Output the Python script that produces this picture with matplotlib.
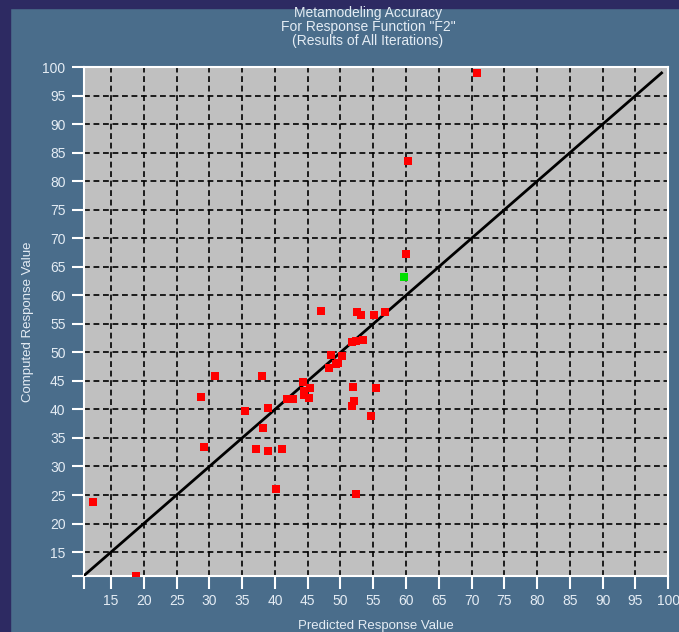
import matplotlib
matplotlib.use('Agg')
import matplotlib.pyplot as plt
from matplotlib.patches import Rectangle

plt.rcParams['font.family'] = ['Liberation Sans', 'DejaVu Sans']

# predicted vs computed values for response function F2
predicted = [70.8, 60.3, 60.0, 47.1, 52.6, 53.1, 55.1, 56.8, 51.8, 52.3,
             53.5, 48.5, 50.2, 48.2, 49.3, 49.7, 30.9, 38.0, 44.3, 45.4,
             44.4, 44.4, 45.2, 42.8, 41.8, 28.7, 51.9, 55.5, 52.1, 51.7,
             54.6, 39.0, 35.5, 38.2, 29.2, 37.1, 39.0, 41.1, 40.1, 52.3,
             12.2, 18.8]
computed = [99.0, 83.6, 67.2, 57.3, 57.0, 56.6, 56.5, 57.0, 51.8, 52.0,
            52.2, 49.6, 49.3, 47.3, 47.9, 48.2, 45.8, 45.8, 44.8, 43.8,
            43.3, 42.6, 42.0, 41.8, 41.8, 42.2, 43.9, 43.8, 41.4, 40.6,
            38.8, 40.3, 39.7, 36.7, 33.5, 33.1, 32.8, 33.0, 26.0, 25.2,
            23.7, 10.8]
# latest iteration
last_predicted = [59.7]
last_computed = [63.2]

axis_min = 10.8
tick_values = list(range(15, 101, 5))

bg = '#4a6d8b'
txt = '#e4ecf4'
fig = plt.figure(figsize=(6.79, 6.32), dpi=100, facecolor=bg)
fig.patches.append(Rectangle((0, 0), 10 / 679, 1, transform=fig.transFigure,
                             color='#2d2a62', zorder=0))
fig.patches.append(Rectangle((0, 1 - 8 / 632), 1, 8 / 632, transform=fig.transFigure,
                             color='#2d2a62', zorder=0))

ax = fig.add_axes([0.123, 0.0886, 0.861, 0.805])
ax.set_facecolor('#c0c0c0')

lo = min(min(predicted), min(computed))
hi = max(max(predicted), max(computed))
ax.plot([lo, hi], [lo, hi], color='black', lw=2, zorder=3)
ax.scatter(predicted, computed, marker='s', s=28, color='#ff0000', zorder=4, linewidths=0)
ax.scatter(last_predicted, last_computed, marker='s', s=28, color='#00e000', zorder=4, linewidths=0)

ax.set_xlim(axis_min, 100)
ax.set_ylim(axis_min, 100)
ticks = [axis_min] + tick_values
labels = [''] + [str(t) for t in tick_values]
ax.set_xticks(ticks)
ax.set_xticklabels(labels)
ax.set_yticks(ticks)
ax.set_yticklabels(labels)
ax.tick_params(colors='white', labelcolor=txt, length=9, width=1.5,
               labelsize=10, pad=4)
ax.grid(True, color='black', linestyle=(0, (3.5, 2.2)), linewidth=1.2)
for s in ax.spines.values():
    s.set_color('white')
    s.set_linewidth(1.5)

ax.set_xlabel('Predicted Response Value', color=txt, fontsize=9.5)
ax.xaxis.set_label_coords(0.5, -0.086)
ax.set_ylabel('Computed Response Value', color=txt, fontsize=9.5)
ax.yaxis.set_label_coords(-0.085, 0.5)
fig.text(0.542, 0.957, 'Metamodeling Accuracy\nFor Response Function "F2"\n(Results of All Iterations)',
         color=txt, fontsize=10, ha='center', va='center', linespacing=0.98)

fig.savefig('out.png', dpi=100, facecolor=bg)
